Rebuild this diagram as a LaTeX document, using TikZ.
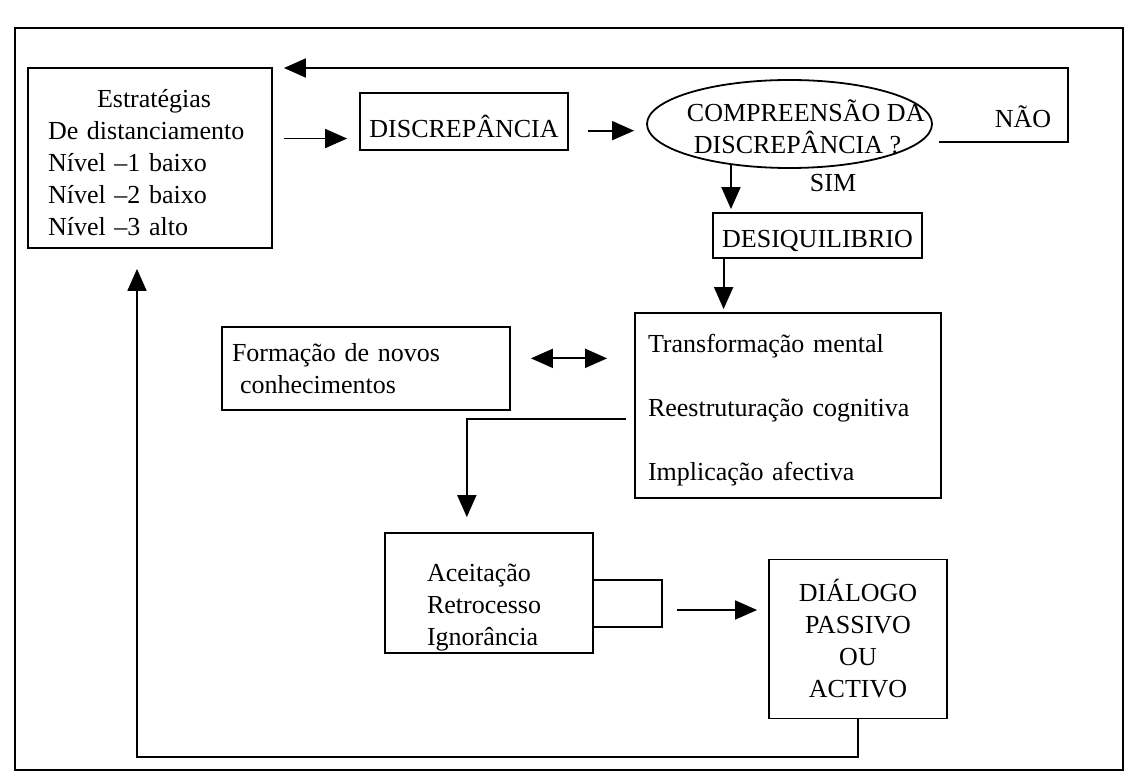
\documentclass[tikz,border=0pt]{standalone}
\usepackage{fontspec}
\setmainfont{Liberation Serif}
\usetikzlibrary{arrows.meta,positioning,shapes.geometric}

\begin{document}
\begin{tikzpicture}[x=0.5pt,y=-0.5pt,line width=0.9pt,>={Triangle[length=11pt,width=9.5pt]},
    every node/.style={font=\fontsize{13}{16}\selectfont},
    caixa/.style={draw,rectangle,inner sep=0pt,line width=0.9pt}]
	  \useasboundingbox (0,0) rectangle (1129,775);
	  \draw (15,28) rectangle (1123,770);

	  \node[caixa,minimum width=122pt,minimum height=90pt,text width=102pt,align=left,text height=14pt] (estrat) at (150,158)
	    {\hspace*{24.5pt}Estratégias\\De distanciamento\\Nível –1 baixo\\Nível –2 baixo\\Nível –3 alto};
	  \node[caixa,minimum width=104pt,minimum height=28.5pt,text height=16pt,text depth=0pt] (discr) at (464,121.5) {DISCREPÂNCIA};
	  \node[draw,ellipse,minimum width=142.5pt,minimum height=44pt,inner sep=0pt] (comp) at (789.5,124) {};
	  \node[anchor=west,inner sep=0pt,align=left] (comptxt) at (686,127)
	    {COMPREENSÃO DA\\\hspace*{3.5pt}DISCREPÂNCIA ?};
	  \node (nao) at (1023,117) {NÃO};
	  \node (sim) at (833,183) {SIM};
	  \node[caixa,minimum width=104.5pt,minimum height=22.5pt,text height=15pt,text depth=2.5pt] (desiq) at (817.5,235.5) {DESIQUILIBRIO};
	  \node[caixa,minimum width=153pt,minimum height=92.5pt,text width=140pt,align=left,text height=13.3pt] (transf) at (788,405.5)
	    {Transformação mental\\[16pt]Reestruturação cognitiva\\[16pt]Implicação afectiva};
	  \node[caixa,minimum width=144pt,minimum height=41.5pt,text width=134pt,align=left] (form) at (366,368.5)
	    {Formação de novos\\\hspace*{4pt}conhecimentos};
	  \node[caixa,minimum width=104pt,minimum height=60pt,text width=62pt,align=left,text height=23.8pt] (aceit) at (489,593)
	    {Aceitação\\Retrocesso\\Ignorância};
	  \node[caixa,minimum width=89pt,minimum height=79.5pt,align=center] (dial) at (858,639)
	    {DIÁLOGO\\PASSIVO\\OU\\ACTIVO};

	  \coordinate (volta) at (1068,68);
	  \coordinate (colch) at (662,610);
	  \coordinate (retorno) at (137,757);

	  % fluxo principal
	  \draw[->,shorten <=5.5pt,shorten >=6pt] (estrat.9.8) -- (estrat.9.8 -| discr.west);
	  \draw[->,shorten <=9.5pt,shorten >=6pt] (discr.-5.8) -- (discr.-5.8 -| comp.west);
	  \draw[->,shorten >=1.5pt] (comp.215) -- (comp.215 |- desiq.north);
	  \draw[->,shorten >=1.5pt] (desiq.194.9) -- (desiq.194.9 |- transf.north);
	  \draw[<->,shorten <=10pt,shorten >=13.5pt] (form.4.6) -- (form.4.6 -| transf.west);
	  \draw[->,shorten <=4pt,shorten >=7.5pt] (transf.185.4) -| (aceit.110.1);
	  \draw (aceit.7.1) -| (colch) |- (aceit.-18.6);
	  \draw[->,shorten <=7.5pt,shorten >=5.5pt] (colch) -- (colch -| dial.west);

	  % retornos
	  \draw[->,shorten >=5.5pt] ([shift={(6,18)}]comp.east) -| (volta) -- (volta -| estrat.north east);
	  \draw[->,shorten >=10pt] (dial.south) |- (retorno) -- (retorno |- estrat.south);
\end{tikzpicture}
\end{document}
